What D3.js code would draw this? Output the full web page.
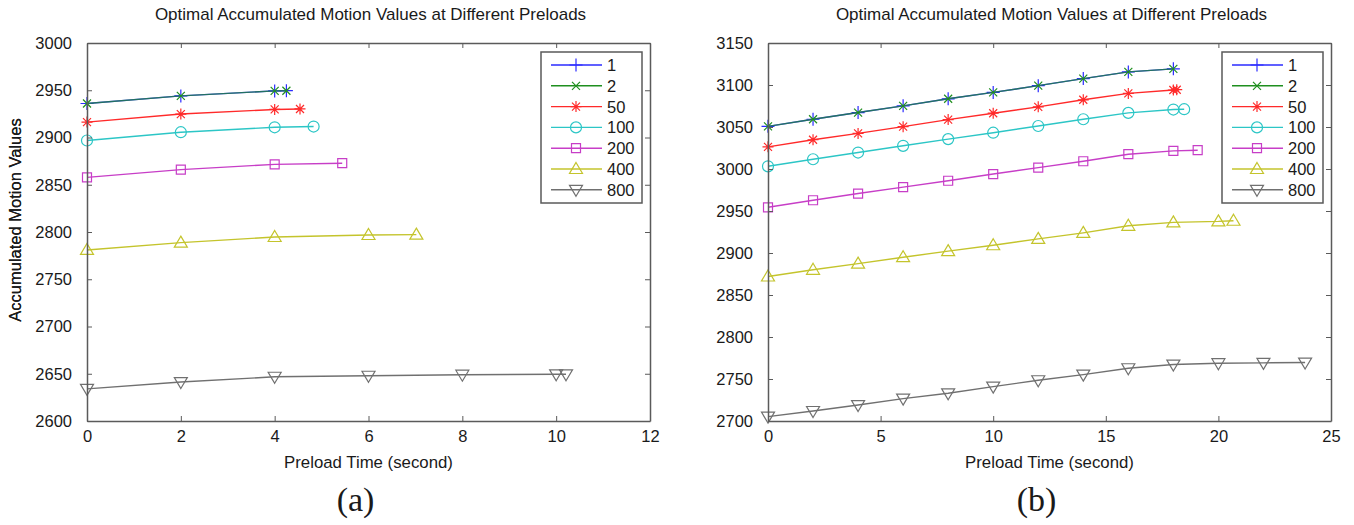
<!DOCTYPE html>
<html>
<head>
<meta charset="utf-8">
<script src="https://cdn.jsdelivr.net/npm/d3@7"></script>
<style>
  body { margin: 0; background: #fff; }
  text { font-family: "Liberation Sans", Arial, Helvetica, sans-serif; fill: #1a1a1a; }
</style>
</head>
<body>
<svg id="chart" width="1354" height="525"></svg>
<script>
// legend entries (preload sizes)
const seriesNames = ["1", "2", "50", "100", "200", "400", "800"];

// panel (a): preload time (s) per series
const timesA = [
    [0, 2, 4, 4.25],
    [0, 2, 4, 4.25],
    [0, 2, 4, 4.54],
    [0, 2, 4, 4.83],
    [0, 2, 4, 5.44],
    [0, 2, 4, 6, 7.02],
    [0, 2, 4, 6, 8, 10, 10.21]
];
// panel (a): accumulated motion values per series
const valuesA = [
    [2936, 2944, 2949.3, 2949.5],
    [2936, 2944, 2949.3, 2949.5],
    [2916.3, 2924.8, 2929.7, 2930.2],
    [2896.8, 2905.6, 2910.8, 2911.6],
    [2857.8, 2866, 2871.6, 2872.8],
    [2781, 2788.8, 2794.7, 2796.8, 2797.2],
    [2634, 2641.2, 2646.8, 2647.9, 2649, 2649.4, 2649.4]
];

// panel (b): preload time (s) per series
const timesB = [
    [0, 2, 4, 6, 8, 10, 12, 14, 16, 18],
    [0, 2, 4, 6, 8, 10, 12, 14, 16, 18],
    [0, 2, 4, 6, 8, 10, 12, 14, 16, 18, 18.15],
    [0, 2, 4, 6, 8, 10, 12, 14, 16, 18, 18.48],
    [0, 2, 4, 6, 8, 10, 12, 14, 16, 18, 19.08],
    [0, 2, 4, 6, 8, 10, 12, 14, 16, 18, 20, 20.67],
    [0, 2, 4, 6, 8, 10, 12, 14, 16, 18, 20, 22, 23.85]
];
// panel (b): accumulated motion values per series
const valuesB = [
    [3050.8, 3059.2, 3067.2, 3075.2, 3083.6, 3091.2, 3099.2, 3107.6, 3115.6, 3119.2],
    [3050.8, 3059.2, 3067.2, 3075.2, 3083.6, 3091.2, 3099.2, 3107.6, 3115.6, 3119.2],
    [3026.4, 3034.8, 3042.4, 3050.4, 3058.8, 3066.4, 3074, 3082.4, 3090, 3094, 3094.4],
    [3003.2, 3011.6, 3019.6, 3027.6, 3035.6, 3043.2, 3051.2, 3059.2, 3066.8, 3070.8, 3071.2],
    [2954.4, 2962.8, 2970.8, 2978.4, 2986, 2994, 3001.6, 3009.2, 3017.6, 3021.6, 3022.4],
    [2872, 2880, 2887.3, 2895, 2902.2, 2909.2, 2916.8, 2924, 2932.4, 2936.4, 2937.6, 2938.4],
    [2705.2, 2711.9, 2719, 2726.6, 2733, 2740.9, 2748.5, 2755.2, 2762.8, 2767.2, 2768.8, 2769.2, 2769.6]
];

const ticksXA = [0, 2, 4, 6, 8, 10, 12];
const ticksXB = [0, 5, 10, 15, 20, 25];
const ticksYA = d3.range(2600, 3001, 50);
const ticksYB = d3.range(2700, 3151, 50);

const colors = ["#2b2bff", "#1f8f1f", "#ff2a2a", "#2cc6c6", "#c73ec7", "#c4c42c", "#707070"];
const markers = ["plus", "cross", "star", "circle", "square", "triUp", "triDown"];

const svg = d3.select("#chart");
const W = 563, H = 378;

function markerPath(type) {
    const p = d3.path();
    if (type === "plus") {
        p.moveTo(-6.5, 0); p.lineTo(6.5, 0); p.moveTo(0, -6.5); p.lineTo(0, 6.5);
    } else if (type === "cross") {
        p.moveTo(-4, -4); p.lineTo(4, 4); p.moveTo(-4, 4); p.lineTo(4, -4);
    } else if (type === "star") {
        p.moveTo(-5.5, 0); p.lineTo(5.5, 0); p.moveTo(0, -5.5); p.lineTo(0, 5.5);
        p.moveTo(-4, -4); p.lineTo(4, 4); p.moveTo(-4, 4); p.lineTo(4, -4);
    } else if (type === "circle") {
        p.arc(0, 0, 5.5, 0, 2 * Math.PI);
    } else if (type === "square") {
        p.rect(-4.5, -4.5, 9, 9);
    } else if (type === "triUp") {
        p.moveTo(0, -6.5); p.lineTo(6.5, 4.5); p.lineTo(-6.5, 4.5); p.closePath();
    } else {
        p.moveTo(0, 6.5); p.lineTo(6.5, -4.5); p.lineTo(-6.5, -4.5); p.closePath();
    }
    return p.toString();
}

function drawPanel(left, xDomain, yDomain, xTicks, yTicks, times, values, tag) {
    const g = svg.append("g").attr("transform", `translate(${left},43)`);
    const x = d3.scaleLinear().domain(xDomain).range([0, W]);
    const y = d3.scaleLinear().domain(yDomain).range([H, 0]);

    // series lines + markers
    const line = d3.line().x((d) => x(d[0])).y((d) => y(d[1]));
    seriesNames.forEach((name, i) => {
        const pts = times[i].map((t, j) => [t, values[i][j]]);
        const s = g.append("g");
        s.append("path")
            .attr("d", line(pts))
            .attr("fill", "none")
            .attr("stroke", colors[i])
            .attr("stroke-opacity", i === 1 ? 0.7 : 1)
            .attr("stroke-width", 1.4);
        s.selectAll("path.mk")
            .data(pts)
            .join("path")
            .attr("class", "mk")
            .attr("transform", (d) => `translate(${x(d[0])},${y(d[1])})`)
            .attr("d", markerPath(markers[i]))
            .attr("fill", "none")
            .attr("stroke", colors[i])
            .attr("stroke-width", 1.2);
    });

    // axes, ticks pointing inward on all four sides
    const fmt = d3.format("d");
    const axes = [
        [d3.axisBottom(x).tickValues(xTicks).tickFormat(fmt).tickPadding(9), `translate(0,${H})`],
        [d3.axisTop(x).tickValues(xTicks).tickFormat(""), "translate(0,0)"],
        [d3.axisLeft(y).tickValues(yTicks).tickFormat(fmt).tickPadding(15), "translate(0,0)"],
        [d3.axisRight(y).tickValues(yTicks).tickFormat(""), `translate(${W},0)`]
    ];
    axes.forEach(([ax, tr]) => {
        const a = g.append("g")
            .attr("transform", tr)
            .call(ax.tickSize(-5).tickSizeOuter(0));
        a.select(".domain").attr("stroke", "#5a5a5a").attr("stroke-width", 1.5);
        a.selectAll(".tick line").attr("stroke", "#5a5a5a").attr("stroke-width", 1);
        a.selectAll(".tick text")
            .attr("font-size", 16.5)
            .attr("fill", "#1a1a1a")
            .style("font-family", '"Liberation Sans", Arial, sans-serif');
    });

    // legend
    const lg = g.append("g").attr("transform", `translate(${W - 109},9)`);
    lg.append("rect")
        .attr("width", 101).attr("height", 151)
        .attr("fill", "#fff").attr("stroke", "#5a5a5a").attr("stroke-width", 1.5);
    seriesNames.forEach((name, i) => {
        const row = lg.append("g").attr("transform", `translate(0,${13 + i * 20.8})`);
        row.append("line").attr("x1", 10).attr("x2", 61)
            .attr("stroke", colors[i]).attr("stroke-width", 1.4);
        row.append("path")
            .attr("transform", "translate(35,0)")
            .attr("d", markerPath(markers[i]))
            .attr("fill", "none").attr("stroke", colors[i]).attr("stroke-width", 1.2);
        row.append("text").attr("x", 66).attr("dy", "0.36em")
            .attr("font-size", 16.5).text(name);
    });

    // titles and labels
    g.append("text").attr("x", W / 2 + 2).attr("y", -23)
        .attr("text-anchor", "middle").attr("font-size", 17)
        .text("Optimal Accumulated Motion Values at Different Preloads");
    g.append("text").attr("x", W / 2).attr("y", H + 47)
        .attr("text-anchor", "middle").attr("font-size", 16.8)
        .text("Preload Time (second)");
    g.append("text")
        .attr("transform", `translate(${-left + 21},${H / 2 - 12}) rotate(-90)`)
        .attr("text-anchor", "middle").attr("font-size", 16.5)
        .text("Accumulated Motion Values");
    g.append("text").attr("x", W / 2 - 13).attr("y", H + 90)
        .attr("text-anchor", "middle").attr("font-size", 34)
        .style("font-family", '"Liberation Serif", "Times New Roman", serif')
        .text(tag);
}

drawPanel(87, [0, 12], [2600, 3000], ticksXA, ticksYA, timesA, valuesA, "(a)");
drawPanel(768, [0, 25], [2700, 3150], ticksXB, ticksYB, timesB, valuesB, "(b)");
</script>
</body>
</html>
